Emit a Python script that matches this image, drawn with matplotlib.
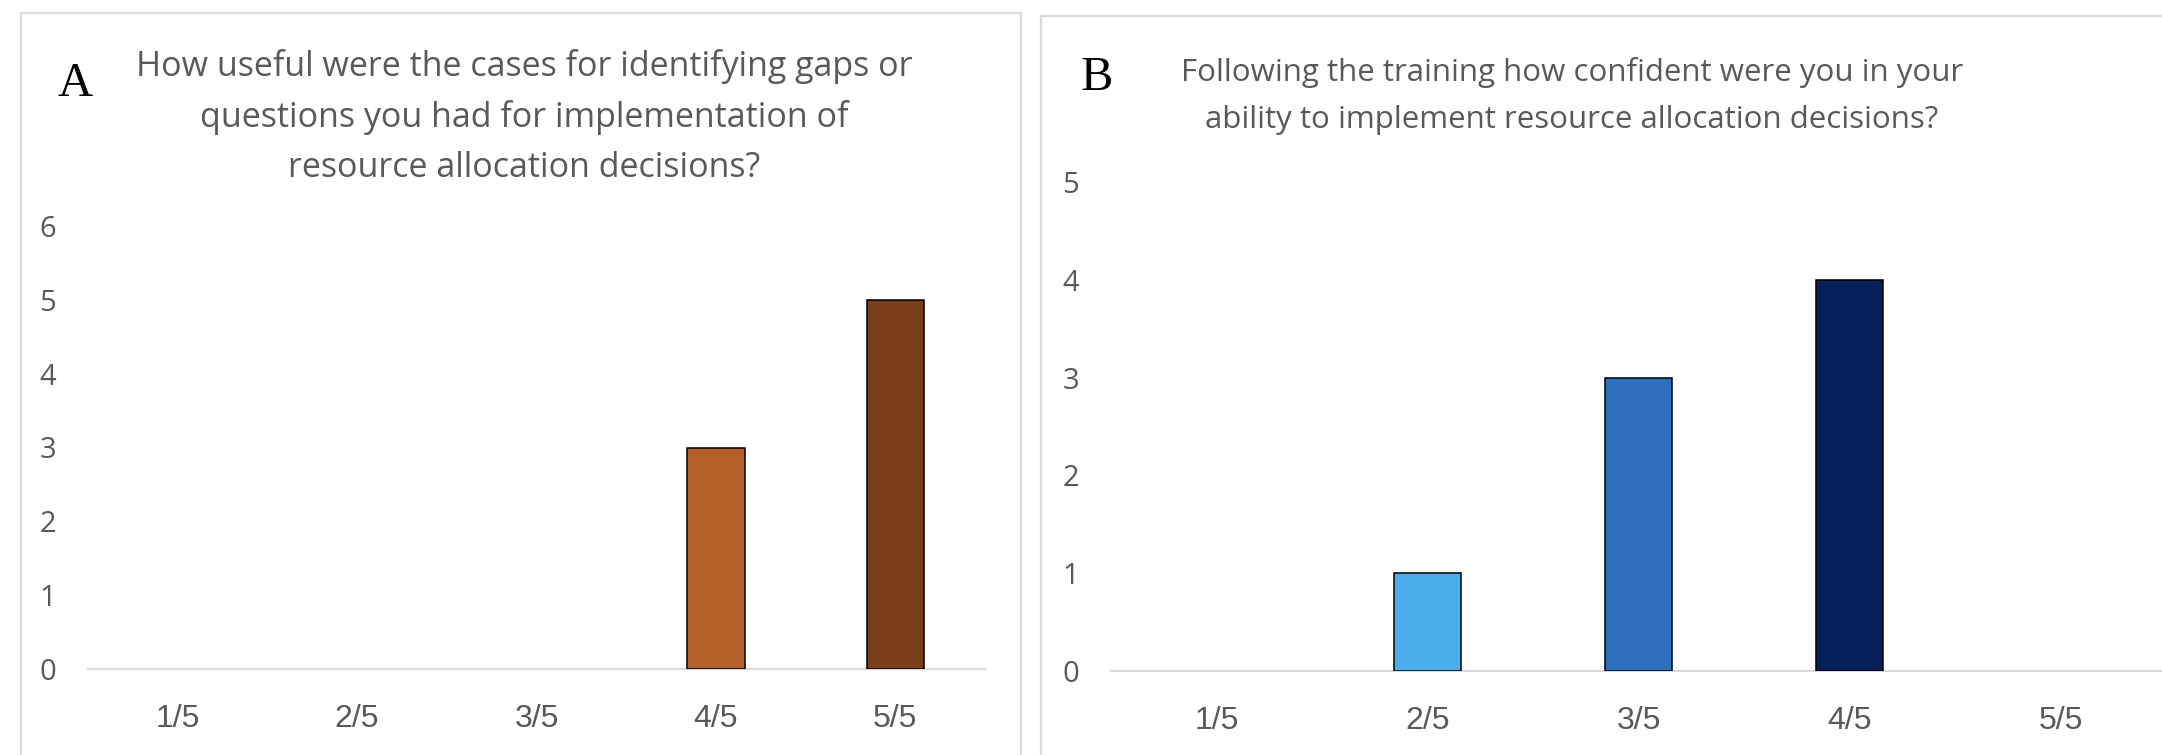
import matplotlib
matplotlib.use("Agg")
import matplotlib.pyplot as plt
from matplotlib.patches import Rectangle

# data
categories = ["1/5", "2/5", "3/5", "4/5", "5/5"]
useful_counts = [0, 0, 0, 3, 5]
confident_counts = [0, 1, 3, 4, 0]

title_a = ("How useful were the cases for identifying gaps or\n"
           "questions you had for implementation of\n"
           "resource allocation decisions?")
title_b = ("Following the training how confident were you in your\n"
           "ability to implement resource allocation decisions?")

# styling
useful_colors = ["#E3A070", "#D0804A", "#C46E38", "#B5602B", "#7B3E1A"]
confident_colors = ["#9FD3F3", "#4BAEE8", "#2C6FBD", "#052059", "#03143A"]
gray = "#595959"
light = "#D9D9D9"
title_font = ["Open Sans", "DejaVu Sans"]
tick_font = ["Liberation Sans Narrow", "Liberation Sans", "DejaVu Sans"]
letter_font = ["Liberation Serif", "DejaVu Serif"]

W, H = 2162, 755
fig = plt.figure(figsize=(W / 100, H / 100), dpi=100)


def fx(px):
    return px / W


def fy(py):
    return 1 - py / H


# panel frames
fig.patches.append(Rectangle((fx(21), fy(800)), fx(1000), (800 - 13) / H,
                             transform=fig.transFigure, fill=False,
                             edgecolor=light, linewidth=1.6))
fig.patches.append(Rectangle((fx(1041), fy(800)), fx(1200), (800 - 16) / H,
                             transform=fig.transFigure, fill=False,
                             edgecolor=light, linewidth=1.6))


def draw_panel(ax, counts, colors, ymax, xmax):
    x = range(len(categories))
    edges = ["black" if c > 0 else "none" for c in counts]
    ax.bar(x, counts, width=0.32, color=colors, edgecolor=edges,
           linewidth=1.1, zorder=3)
    ax.set_xlim(-0.5, xmax)
    ax.set_ylim(0, ymax)
    ax.set_yticks(range(ymax + 1))
    ax.set_xticks(list(x))
    ax.set_xticklabels(categories, family=tick_font, fontsize=23, color=gray)
    for lab in ax.get_yticklabels():
        lab.set_family(title_font)
        lab.set_fontsize(21)
        lab.set_color(gray)
    ax.tick_params(axis="y", length=0, pad=23)
    ax.tick_params(axis="x", length=0, pad=25)
    for s in ["top", "right", "left"]:
        ax.spines[s].set_visible(False)
    ax.spines["bottom"].set_color(light)
    ax.spines["bottom"].set_linewidth(1.6)
    ax.patch.set_alpha(0)


ax_a = fig.add_axes([fx(88), fy(669), fx(985 - 88), (669 - 226) / H])
draw_panel(ax_a, useful_counts, useful_colors, 6, 4.5)

ax_b = fig.add_axes([fx(1111), fy(671), fx(W - 1111), (671 - 182) / H])
draw_panel(ax_b, confident_counts, confident_colors, 5, 4.48)

fig.text(fx(524), fy(117), title_a, ha="center", va="center",
         family=title_font, fontsize=24.5, color=gray, linespacing=1.62)
fig.text(fx(1572), fy(96), title_b, ha="center", va="center",
         family=title_font, fontsize=22.5, color=gray, linespacing=1.72)

fig.text(fx(75), fy(84), "A", ha="center", va="center",
         family=letter_font, fontsize=35, color="black")
fig.text(fx(1097), fy(78), "B", ha="center", va="center",
         family=letter_font, fontsize=35, color="black")

fig.savefig("out.png", dpi=100)
